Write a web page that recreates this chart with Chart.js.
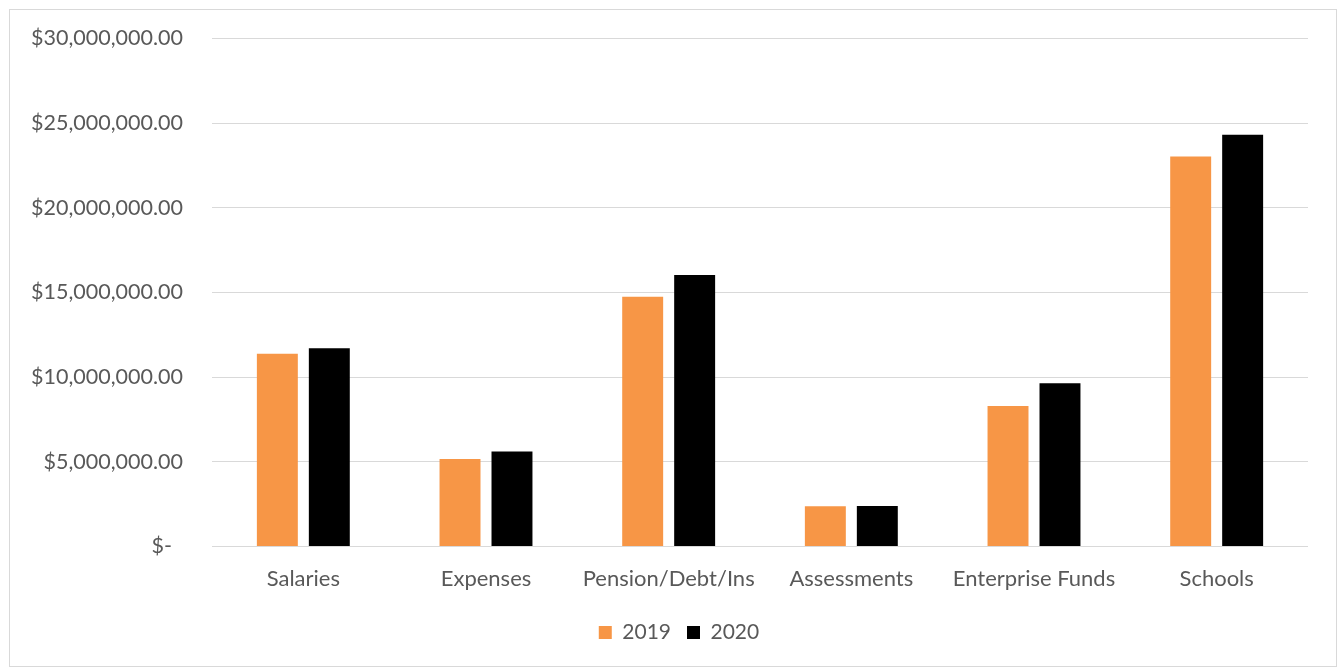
<!DOCTYPE html>
<html>
<head>
<meta charset="utf-8">
<script src="https://cdn.jsdelivr.net/npm/chart.js@4/dist/chart.umd.min.js"></script>
<style>
  html, body { margin: 0; padding: 0; background: #ffffff; }
  #wrap { position: absolute; left: 9px; top: 9px; width: 1326px; height: 656px; border: 1px solid #d9d9d9; background: #fff; }
  canvas { display: block; }
</style>
</head>
<body>
<div id="wrap"><canvas id="c" width="1326" height="656"></canvas></div>
<script>
const categories = ["Salaries", "Expenses", "Pension/Debt/Ins", "Assessments", "Enterprise Funds", "Schools"];
const values2019 = [11390000, 5160000, 14750000, 2380000, 8300000, 23030000];
const values2020 = [11710000, 5610000, 16030000, 2390000, 9640000, 24310000];
const seriesNames = ["2019", "2020"];
const yMax = 30000000;
const yStep = 5000000;

function fmtMoney(v) {
  if (v === 0) return "$-  ";
  return "$" + v.toLocaleString("en-US", { minimumFractionDigits: 2, maximumFractionDigits: 2 });
}

const FONT = "Lato";
const TEXT = "#595959";

const legendShift = {
  id: "legendShift",
  afterLayout(chart) {
    const lg = chart.legend;
    if (lg) { lg.left += 20; lg.right += 20; }
  }
};

new Chart(document.getElementById("c"), {
  type: "bar",
  data: {
    labels: categories,
    datasets: [
      { label: seriesNames[0], data: values2019, backgroundColor: "#F79646", borderWidth: 0 },
      { label: seriesNames[1], data: values2020, backgroundColor: "#000000", borderWidth: 0 }
    ]
  },
  plugins: [legendShift],
  options: {
    responsive: false,
    animation: false,
    devicePixelRatio: 1,
    layout: { padding: { top: 28.5, right: 28, bottom: 13, left: 0 } },
    datasets: { bar: { categoryPercentage: 0.569, barPercentage: 0.788 } },
    plugins: {
      legend: {
        position: "bottom",
        labels: {
          font: { family: FONT, size: 21 },
          color: TEXT,
          boxWidth: 13,
          boxHeight: 13,
          padding: 16
        }
      },
      tooltip: { enabled: false }
    },
    scales: {
      x: {
        grid: { display: false, drawTicks: false },
        border: { display: false },
        ticks: { font: { family: FONT, size: 22 }, color: TEXT, padding: 19, maxRotation: 0, autoSkip: false },
        afterFit: (s) => { s.height = 59.5; }
      },
      y: {
        min: 0, max: yMax,
        grid: { color: "#d9d9d9", lineWidth: 1, drawTicks: false },
        border: { display: false },
        ticks: { stepSize: yStep, font: { family: FONT, size: 21.5 }, color: TEXT, padding: 29, callback: (v) => fmtMoney(v) },
        afterFit: (s) => { s.width = 202; s.paddingTop = 0; s.paddingBottom = 0; }
      }
    }
  }
});
</script>
</body>
</html>
